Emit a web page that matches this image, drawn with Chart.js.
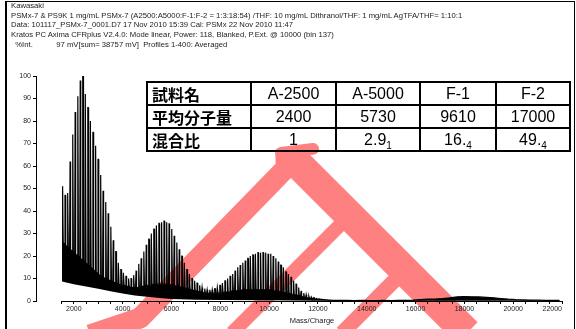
<!DOCTYPE html>
<html>
<head>
<meta charset="utf-8">
<script src="https://cdn.jsdelivr.net/npm/chart.js@4.4.1/dist/chart.umd.min.js"></script>
<style>
  html, body { margin: 0; padding: 0; background: #fff; }
  body { width: 576px; height: 329px; position: relative; overflow: hidden; }
  #frame { position: absolute; left: 5px; top: 1px; width: 567px; height: 340px;
           border-left: 2px solid #000; border-top: 1px solid #000; border-right: 1px solid #000; }
  #spectrum { position: absolute; left: 0; top: 0; }
  #header { position: absolute; left: 11px; top: 1px; font: 7.7px/9.7px "Liberation Sans", Arial, sans-serif;
            color: #222; white-space: pre; }
  #xtitle { position: absolute; left: 262px; width: 100px; top: 316px; text-align: center;
            font: 7.5px "Liberation Sans", Arial, sans-serif; color: #222; }
  #tbl { position: absolute; left: 146px; top: 81px; border-collapse: collapse; table-layout: fixed;
         width: 423px; font-family: "Liberation Sans", Arial, sans-serif; font-size: 16px; color: #000; }
  #tbl td { border: 2px solid #000; height: 21px; padding: 0; text-align: center; line-height: 20px; }
  #tbl td.h { text-align: left; padding-left: 4px; font-family: "Noto Sans CJK JP", sans-serif; font-weight: bold; }
  #tbl sub { font-size: 10px; vertical-align: -4px; line-height: 0; }
</style>
</head>
<body>
<div id="frame"></div>
<canvas id="spectrum" width="576" height="329"></canvas>
<div id="header">Kawasaki
PSMx-7 &amp; PS9K 1 mg/mL PSMx-7 (A2500:A5000:F-1:F-2 = 1:3:18:54) /THF: 10 mg/mL Dithranol/THF: 1 mg/mL AgTFA/THF= 1:10:1
Data: 101117_PSMx-7_0001.D7 17 Nov 2010 15:39 Cal: PSMx 22 Nov 2010 11:47
Kratos PC Axima CFRplus V2.4.0: Mode linear, Power: 118, Blanked, P.Ext. @ 10000 (bin 137)
  %Int.           97 mV[sum= 38757 mV]  Profiles 1-400: Averaged</div>
<table id="tbl">
  <colgroup><col style="width:104px"><col style="width:85px"><col style="width:84px"><col style="width:76px"><col style="width:74px"></colgroup>
  <tr><td class="h">試料名</td><td>A-2500</td><td>A-5000</td><td>F-1</td><td>F-2</td></tr>
  <tr><td class="h">平均分子量</td><td>2400</td><td>5730</td><td>9610</td><td>17000</td></tr>
  <tr><td class="h">混合比</td><td>1</td><td>2.9<sub>1</sub></td><td>16.<sub>4</sub></td><td>49.<sub>4</sub></td></tr>
</table>
<div id="xtitle">Mass/Charge</div>
<script>
// axis ranges
const xMin = 450;
const xMax = 22000;
const axisStart = 1500;
const xMinorStep = 500;
const xLabels = [2000, 4000, 6000, 8000, 10000, 12000, 14000, 16000, 18000, 20000, 22000];
const yLabelStep = 10;

// main oligomer peaks (m/z, %Int)
const peakMass = [
  1540, 1644, 1748, 1852, 1956, 2060, 2164, 2268, 2372, 2476,
  2580, 2684, 2788, 2892, 2996, 3100, 3204, 3308, 3412, 3516,
  3620, 3724, 3828, 3932, 4036, 4140, 4244, 4348, 4452, 4556,
  4660, 4764, 4868, 4972, 5076, 5180, 5284, 5388, 5492, 5596,
  5700, 5804, 5908, 6012, 6116, 6220, 6324, 6428, 6532, 6636,
  6740, 6844, 6948, 7052, 7156, 7260, 7364, 7468, 7572, 7676,
  7780, 7884, 7988, 8092, 8196, 8300, 8404, 8508, 8612, 8716,
  8820, 8924, 9028, 9132, 9236, 9340, 9444, 9548, 9652, 9756,
  9860, 9964, 10068, 10172, 10276, 10380, 10484, 10588, 10692, 10796,
  10900, 11004, 11108, 11212, 11316, 11420, 11524, 11628, 11732, 11836,
  11940, 12044, 12148, 12252, 12356, 12460
];
const peakTop = [
  51, 47, 48, 62, 74, 84, 91, 98, 101, 92,
  86, 80, 75, 69, 63, 56, 49, 44, 39, 33,
  27, 22, 17, 14, 12.5, 11, 10, 10, 11.5, 13.5,
  16.5, 19, 22, 25, 27.5, 30, 32, 33.5, 34.5, 35,
  35.5, 35, 34.5, 32, 29, 26, 23, 20, 17, 14,
  12, 10, 9, 8, 7, 6, 5.5, 5, 5, 5,
  5.5, 6, 7, 8, 9, 10, 11, 12, 13.5, 15,
  16, 17, 18, 19, 20, 20.5, 21, 21.5, 21.5, 21.5,
  21.5, 21, 21, 20, 19, 17.5, 16, 15, 13, 12,
  10.5, 9, 7.5, 6, 4.5, 3.5, 2.8, 2.2, 1.8, 1.5,
  1.2, 1, 0.8, 0.6, 0.5, 0.4
];
// top of the dense noise band between the main peaks
const peakBand = [
  26, 25, 24, 23, 22, 21, 20, 19, 18, 17,
  16, 15, 14, 13, 12, 11, 10.5, 10, 9.5, 9,
  8.5, 8, 7.5, 7, 7, 6.5, 6.5, 6, 6, 6,
  6, 6.5, 6.5, 7, 7, 7, 7.5, 7.5, 7.5, 7.5,
  7.5, 7.5, 7.5, 7, 7, 6.5, 6.5, 6, 6, 5.5,
  5, 5, 4.5, 4.5, 4, 4, 3.5, 3.5, 3.5, 3.5,
  3.5, 3.5, 3.5, 3.5, 4, 4, 4, 4.5, 4.5, 4.5,
  4.5, 5, 5, 5, 5, 5, 5, 5, 5, 5,
  5, 5, 5, 4.5, 4.5, 4.5, 4, 4, 3.5, 3.5,
  3, 3, 2.5, 2.5, 2, 1.8, 1.5, 1.3, 1.2, 1,
  0.9, 0.8, 0.7, 0.6, 0.5, 0.4
];
// high mass tail (F-2 region)
const tailMass = [12600, 12900, 13200, 13500, 13800, 14100, 14400, 14700, 15000, 15300, 15600, 15900,
  16200, 16500, 16800, 17100, 17400, 17700, 18000, 18300, 18600, 18900, 19200, 19500,
  19800, 20100, 20400, 20700, 21000, 21300, 21600, 21900];
const tailInt = [0.3, 0.25, 0.3, 0.2, 0.25, 0.2, 0.2, 0.25, 0.2, 0.25, 0.3, 0.4,
  0.6, 0.8, 0.9, 1.1, 1.4, 1.8, 2.0, 1.9, 1.8, 1.6, 1.4, 1.1,
  0.8, 0.6, 0.5, 0.4, 0.35, 0.3, 0.3, 0.3];
// lower edge of the signal (baseline)
const floorMass = [1500, 2000, 2500, 3000, 3500, 4000, 4500, 5000, 5500, 6000, 7000, 8000, 10000, 12000, 16000, 22000];
const floorInt = [8.7, 7.5, 6.5, 5.5, 4.3, 3.3, 2.5, 1.9, 1.3, 0.9, 0.6, 0.5, 0.3, 0.1, 0.1, 0.1];

// red hand-drawn marks over the figure (m/z, %Int)
const markLeftX = [2662, 4711, 10693, 10693];
const markLeftY = [-15.1, -7.6, 59.1, 65.8];
const markRightX = [10897, 18108];
const markRightY = [64, -14.2];
const markCapX = [10488, 11799];
const markCapY = [65.8, 67.6];
const markInner1X = [8480, 13233];
const markInner1Y = [-14.2, 37.3];
const markInner2X = [12987, 15363];
const markInner2Y = [-14.2, 11.6];

// build spectrum trace: band level, flat-topped peak, band level
const trace = [];
peakMass.forEach((m, i) => {
    trace.push({ x: m - 24, y: peakBand[i] });
    trace.push({ x: m - 6, y: peakTop[i] });
    trace.push({ x: m + 6, y: peakTop[i] });
    trace.push({ x: m + 24, y: peakBand[i] });
});
tailMass.forEach((m, i) => trace.push({ x: m, y: tailInt[i] }));

const floorLine = floorMass.map((m, i) => ({ x: m, y: floorInt[i] }));

function toPoints(xs, ys) {
    return xs.map((x, i) => ({ x: x, y: ys[i] }));
}

function markSet(xs, ys, width, cap) {
    return {
        data: toPoints(xs, ys),
        borderColor: '#ff8080',
        borderWidth: width,
        borderCapStyle: cap || 'butt',
        borderJoinStyle: 'round',
        pointRadius: 0,
        fill: false,
        clip: false,
        order: -1,
        mark: true
    };
}

// red marks are blended with "darken" so overlaps keep one tone
const markBlend = {
    id: 'markBlend',
    beforeDatasetDraw(chart, args) {
        if (chart.data.datasets[args.index].mark) {
            chart.ctx.save();
            chart.ctx.globalCompositeOperation = 'darken';
        }
    },
    afterDatasetDraw(chart, args) {
        if (chart.data.datasets[args.index].mark) chart.ctx.restore();
    }
};

// x axis line only spans the acquired mass range
const axisLine = {
    id: 'axisLine',
    beforeDatasetsDraw(chart) {
        const { ctx, chartArea, scales } = chart;
        ctx.save();
        ctx.strokeStyle = '#000';
        ctx.lineWidth = 1;
        ctx.beginPath();
        ctx.moveTo(scales.x.getPixelForValue(axisStart), chartArea.bottom + 0.5);
        ctx.lineTo(scales.x.getPixelForValue(xMax), chartArea.bottom + 0.5);
        ctx.stroke();
        ctx.restore();
    }
};

const tickFont = { family: '"Liberation Sans", Arial, sans-serif', size: 7 };

new Chart(document.getElementById('spectrum'), {
    type: 'line',
    data: {
        datasets: [
            {
                data: floorLine,
                borderWidth: 0,
                borderColor: 'rgba(0,0,0,0)',
                pointRadius: 0,
                fill: false
            },
            {
                data: trace,
                borderColor: '#000',
                borderWidth: 1.2,
                backgroundColor: '#000',
                pointRadius: 0,
                fill: '-1'
            },
            markSet(markLeftX, markLeftY, 21),
            markSet(markRightX, markRightY, 30),
            markSet(markCapX, markCapY, 12, 'round'),
            markSet(markInner1X, markInner1Y, 14),
            markSet(markInner2X, markInner2Y, 15)
        ]
    },
    options: {
        responsive: false,
        animation: false,
        devicePixelRatio: 1,
        layout: { padding: { left: 6, right: 14, top: 76, bottom: 0 } },
        plugins: { legend: { display: false }, tooltip: { enabled: false } },
        scales: {
            x: {
                type: 'linear',
                min: xMin,
                max: xMax,
                afterBuildTicks: (s) => {
                    const ticks = [];
                    for (let v = axisStart; v <= xMax; v += xMinorStep) ticks.push({ value: v });
                    s.ticks = ticks;
                },
                afterFit: (s) => { s.height = 28; },
                ticks: {
                    autoSkip: false,
                    maxRotation: 0,
                    align: 'inner',
                    padding: 1,
                    color: '#222',
                    font: tickFont,
                    callback: (v) => (xLabels.includes(v) ? String(v) : '')
                },
                grid: { drawOnChartArea: false, drawTicks: true, tickLength: 3, color: '#000' },
                border: { display: false }
            },
            y: {
                min: 0,
                max: 100,
                afterFit: (s) => { s.width = 30; },
                ticks: {
                    stepSize: 5,
                    padding: 2,
                    color: '#222',
                    font: tickFont,
                    callback: (v) => (v % yLabelStep === 0 ? String(v) : '')
                },
                grid: { drawOnChartArea: false, drawTicks: true, tickLength: 3, color: '#000' },
                border: { display: true, color: '#000', width: 1 }
            }
        }
    },
    plugins: [markBlend, axisLine]
});
</script>
</body>
</html>
